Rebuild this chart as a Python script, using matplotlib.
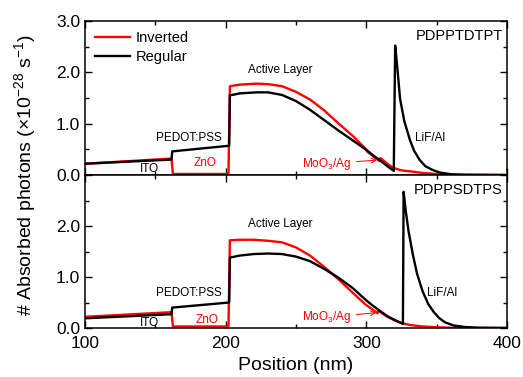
import matplotlib
matplotlib.use("Agg")
import matplotlib.pyplot as plt
from matplotlib.ticker import MultipleLocator

plt.rcParams['font.family'] = ['Liberation Sans', 'DejaVu Sans']
plt.rcParams['mathtext.fontset'] = 'custom'
plt.rcParams['mathtext.rm'] = 'Liberation Sans'
plt.rcParams['mathtext.it'] = 'Liberation Sans:italic'
plt.rcParams['mathtext.bf'] = 'Liberation Sans:bold'

# ---------------- data ----------------
# Top panel: PDPPTDTPT
top_reg_x = [100, 161.5, 162, 202.5, 203, 210, 222, 230, 240, 250, 260, 270, 280, 290, 300, 305, 310, 315,
             319.5, 320.5, 322, 324, 327, 331, 334, 338, 342, 347, 352, 360, 370, 400]
top_reg_y = [0.22, 0.30, 0.46, 0.57, 1.55, 1.59, 1.61, 1.61, 1.56, 1.44, 1.27, 1.07, 0.87, 0.68, 0.49, 0.38, 0.28, 0.17,
             0.08, 2.52, 2.10, 1.48, 1.05, 0.68, 0.47, 0.29, 0.17, 0.10, 0.05, 0.015, 0.004, 0.0]

top_inv_x = [100, 161.5, 162.5, 202, 203, 210, 222, 230, 240, 250, 260, 270, 280, 290, 299.5, 300.5, 305, 309.5,
             310, 315, 319, 325, 333, 340, 350, 360, 400]
top_inv_y = [0.22, 0.32, 0.02, 0.02, 1.73, 1.76, 1.78, 1.77, 1.73, 1.62, 1.47, 1.26, 1.01, 0.77, 0.51, 0.46, 0.36, 0.27,
             0.33, 0.22, 0.14, 0.09, 0.065, 0.04, 0.02, 0.005, 0.0]

# Bottom panel: PDPPSDTPS
bot_reg_x = [100, 161.5, 162, 202.5, 203, 210, 220, 230, 240, 250, 260, 270, 280, 290, 300, 305, 310, 315, 320,
             326, 326.5, 328, 330, 333, 336, 340, 344, 348, 352, 356, 362, 370, 380, 400]
bot_reg_y = [0.19, 0.27, 0.40, 0.50, 1.38, 1.42, 1.45, 1.46, 1.45, 1.40, 1.31, 1.16, 0.99, 0.79, 0.54, 0.43, 0.33, 0.23, 0.16,
             0.08, 2.67, 2.30, 1.90, 1.45, 1.07, 0.72, 0.47, 0.31, 0.19, 0.11, 0.05, 0.02, 0.005, 0.0]

bot_inv_x = [100, 161.5, 162.5, 202, 203, 210, 220, 230, 240, 250, 260, 270, 280, 290, 299, 308, 308.5, 315, 320,
             326, 332, 340, 350, 360, 400]
bot_inv_y = [0.22, 0.31, 0.03, 0.03, 1.72, 1.73, 1.73, 1.71, 1.68, 1.58, 1.42, 1.20, 0.96, 0.70, 0.47, 0.29, 0.34, 0.22, 0.15,
             0.09, 0.055, 0.03, 0.015, 0.005, 0.0]

series_labels = ["Inverted", "Regular"]
panel_names = ["PDPPTDTPT", "PDPPSDTPS"]

# ---------------- figure ----------------
W, H = 523, 377
fig = plt.figure(figsize=(W / 100, H / 100), dpi=100)
L, R = 85 / W, 507 / W
y_top_top, y_mid, y_bot = 1 - 21 / H, 1 - 175 / H, 1 - 328 / H
ax1 = fig.add_axes([L, y_mid, R - L, y_top_top - y_mid])
ax2 = fig.add_axes([L, y_bot, R - L, y_mid - y_bot])

RED = '#ff0000'
LW = 1.7

for ax in (ax1, ax2):
    ax.set_xlim(100, 400)
    ax.set_ylim(0, 3.0)
    ax.xaxis.set_major_locator(MultipleLocator(100))
    ax.xaxis.set_minor_locator(MultipleLocator(50))
    ax.yaxis.set_major_locator(MultipleLocator(1.0))
    ax.yaxis.set_minor_locator(MultipleLocator(0.5))
    ax.tick_params(which='both', direction='in', top=True, right=True, labelsize=12.5, width=1.0)
    ax.tick_params(which='major', length=5)
    ax.tick_params(which='minor', length=3)
    ax.tick_params(axis='x', which='major', pad=6)
    for s in ax.spines.values():
        s.set_linewidth(1.1)

ax1.plot(top_inv_x, top_inv_y, color=RED, lw=LW, label=series_labels[0])
ax1.plot(top_reg_x, top_reg_y, color='black', lw=LW, label=series_labels[1])
ax2.plot(bot_inv_x, bot_inv_y, color=RED, lw=LW)
ax2.plot(bot_reg_x, bot_reg_y, color='black', lw=LW)

ax1.tick_params(labelbottom=False)
ax1.set_yticks([0, 1, 2, 3])
ax1.set_yticklabels(['0.0', '1.0', '2.0', '3.0'])
ax2.set_yticks([0, 1, 2, 3])
ax2.set_yticklabels(['0.0', '1.0', '2.0', ''])
ax2.set_xticks([100, 200, 300, 400])
ax2.set_xticklabels(['100', '200', '300', '400'])

ax1.legend(loc='upper left', frameon=False, fontsize=10.5, handlelength=2.4,
           handletextpad=0.4, borderaxespad=0.3, labelspacing=0.35)

fs = 8.5
# top annotations
ax1.text(145.5, 0.11, 'ITO', fontsize=fs, ha='center', va='center')
ax1.text(174, 0.72, 'PEDOT:PSS', fontsize=fs, ha='center', va='center')
ax1.text(185, 0.23, 'ZnO', fontsize=fs, ha='center', va='center', color=RED)
ax1.text(238.5, 2.05, 'Active Layer', fontsize=fs, ha='center', va='center')
ax1.text(345, 0.72, 'LiF/Al', fontsize=fs, ha='center', va='center')
ax1.annotate('MoO$_3$/Ag', xy=(307.5, 0.29), xytext=(271.5, 0.22), fontsize=fs, ha='center', va='center',
             color=RED, arrowprops=dict(arrowstyle='->', color=RED, lw=0.7, shrinkA=2, shrinkB=0))
ax1.text(397, 2.7, panel_names[0], fontsize=10.5, ha='right', va='center')

# bottom annotations
ax2.text(145.5, 0.09, 'ITO', fontsize=fs, ha='center', va='center')
ax2.text(174, 0.68, 'PEDOT:PSS', fontsize=fs, ha='center', va='center')
ax2.text(186.5, 0.16, 'ZnO', fontsize=fs, ha='center', va='center', color=RED)
ax2.text(238.5, 2.03, 'Active Layer', fontsize=fs, ha='center', va='center')
ax2.text(353.5, 0.68, 'LiF/Al', fontsize=fs, ha='center', va='center')
ax2.annotate('MoO$_3$/Ag', xy=(307, 0.30), xytext=(271.5, 0.21), fontsize=fs, ha='center', va='center',
             color=RED, arrowprops=dict(arrowstyle='->', color=RED, lw=0.7, shrinkA=2, shrinkB=0))
ax2.text(397, 2.7, panel_names[1], fontsize=10.5, ha='right', va='center')

fig.text(25 / W, 1 - 174.5 / H, '# Absorbed photons (\u00d710$^{-28}$ s$^{-1}$)', rotation=90,
         ha='center', va='center', fontsize=14)
fig.text((85 + 507) / 2 / W, 1 - 365 / H, 'Position (nm)', ha='center', va='center', fontsize=14)

fig.savefig('out.png', dpi=100)
